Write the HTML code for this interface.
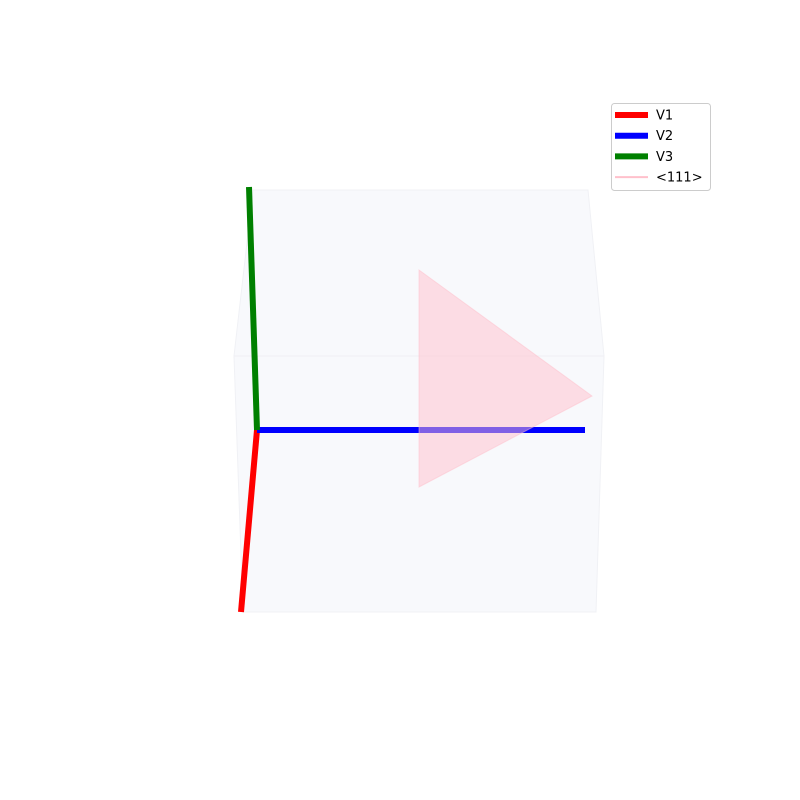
<!DOCTYPE html>
<html><head><meta charset="utf-8"><style>
body{margin:0;background:#fff;}
svg{display:block;font-family:"DejaVu Sans","Liberation Sans",sans-serif;}
</style></head><body>
<svg id="chart" width="800" height="800" viewBox="0 0 800 800">
<polygon points="253,190 588,190 604,356 596,612 243,612 234,356" fill="#f8f9fc" stroke="#f0f1f5" stroke-width="1"/>
<line x1="234" y1="356" x2="604" y2="356" stroke="#eff0f4" stroke-width="1"/>
<g id="marks"></g>
<g>
<rect x="611.5" y="103.5" width="99" height="87" rx="3" fill="#fff" fill-opacity="0.8" stroke="#cccccc"/>
<g id="legend-entries"></g>
</g>
</svg>
<script>
// projected coordinates (screen-space data units), origin & vector tips
const origin = [0, 0];
const vectorNames = ['V1', 'V2', 'V3'];
const vectorColors = ['red', 'blue', 'green'];
const vectorTipX = [-0.16, 3.28, -0.08];
const vectorTipY = [-1.82, 0, 2.43];
const triX = [1.62, 3.35, 1.62];
const triY = [1.60, 0.34, -0.57];

const sx = v => 257 + v * 100;
const sy = v => 430 - v * 100;
const NS = 'http://www.w3.org/2000/svg';
const marks = document.getElementById('marks');

for (let i = 0; i < vectorNames.length; i++) {
  const l = document.createElementNS(NS, 'line');
  
  
  l.setAttribute('x1', sx(origin[0])); l.setAttribute('y1', sy(origin[1]));
  l.setAttribute('x2', sx(vectorTipX[i])); l.setAttribute('y2', sy(vectorTipY[i]));
  l.setAttribute('stroke', vectorColors[i]); l.setAttribute('stroke-width', '6');
  marks.appendChild(l);
}
const tri = document.createElementNS(NS, 'polygon');


tri.setAttribute('points', triX.map((x, i) => sx(x) + ',' + sy(triY[i])).join(' '));
tri.setAttribute('fill', 'pink'); tri.setAttribute('fill-opacity', '0.5');
tri.setAttribute('stroke', 'pink'); tri.setAttribute('stroke-opacity', '0.5');
marks.appendChild(tri);

const legendLabels = ['V1', 'V2', 'V3', '<111>'];
const legendColors = ['red', 'blue', 'green', 'pink'];
const legendWidths = [6, 6, 6, 2];
const lg = document.getElementById('legend-entries');
legendLabels.forEach((lab, i) => {
  const y = 115 + i * 20.7;
  const g = document.createElementNS(NS, 'g');
  
  
  const l = document.createElementNS(NS, 'line');
  l.setAttribute('x1', 615); l.setAttribute('x2', 648);
  l.setAttribute('y1', y); l.setAttribute('y2', y);
  l.setAttribute('stroke', legendColors[i]); l.setAttribute('stroke-width', legendWidths[i]);
  const t = document.createElementNS(NS, 'text');
  t.setAttribute('x', 656); t.setAttribute('y', y + 4.5);
  t.setAttribute('font-size', '13'); t.setAttribute('fill', '#000');
  t.textContent = lab;
  g.appendChild(l); g.appendChild(t); lg.appendChild(g);
});
</script>
</body></html>
